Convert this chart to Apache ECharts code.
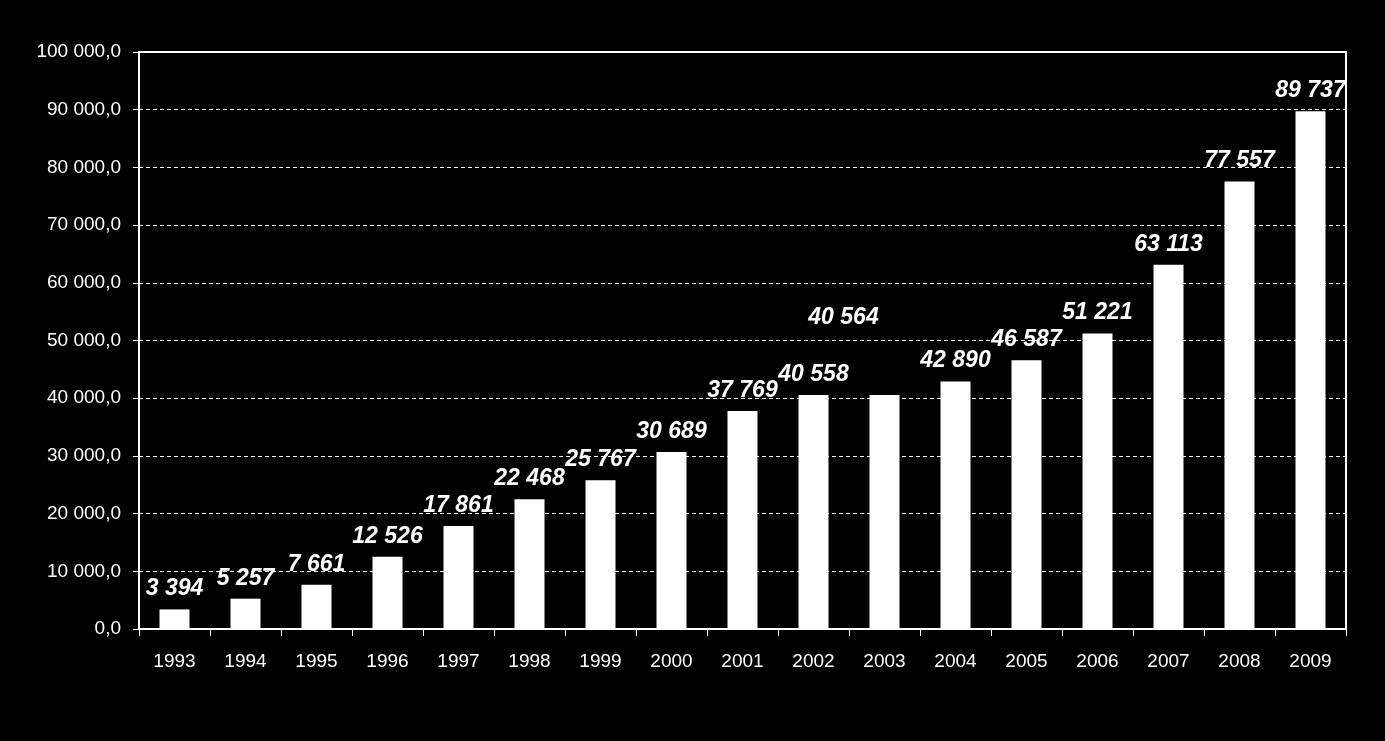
<!DOCTYPE html>
<html>
<head>
<meta charset="utf-8">
<script src="https://cdn.jsdelivr.net/npm/echarts@6/dist/echarts.min.js"></script>
<style>
html,body{margin:0;padding:0;background:#000;}
#chart{width:1385px;height:741px;}
</style>
</head>
<body>
<div id="chart"></div>
<script>
const categories = ['1993','1994','1995','1996','1997','1998','1999','2000','2001','2002','2003','2004','2005','2006','2007','2008','2009'];
const values = [3394, 5257, 7661, 12526, 17861, 22468, 25767, 30689, 37769, 40558, 40564, 42890, 46587, 51221, 63113, 77557, 89737];
const yTicks = { min: 0, max: 100000, interval: 10000 };

function groupSpace(n){
  return String(n).replace(/\B(?=(\d{3})+(?!\d))/g, ' ');
}

const seriesData = values.map((v, i) => {
  if (categories[i] === '2003') {
    return { value: v, label: { offset: [-41, -57] } };
  }
  return v;
});

const chart = echarts.init(document.getElementById('chart'));
chart.setOption({
  backgroundColor: '#000',
  animation: false,
  grid: {
    left: 139, right: 39, top: 52, bottom: 112,
    show: true, borderColor: '#fff', borderWidth: 2, backgroundColor: 'transparent'
  },
  xAxis: {
    type: 'category',
    data: categories,
    axisLine: { lineStyle: { color: '#fff', width: 2 } },
    axisTick: { show: true, alignWithLabel: false, length: 7, lineStyle: { color: '#fff', width: 1 } },
    axisLabel: { color: '#fff', fontSize: 19, fontFamily: 'Liberation Sans, Arial, sans-serif', margin: 23 },
    splitLine: { show: false }
  },
  yAxis: {
    type: 'value',
    min: yTicks.min, max: yTicks.max, interval: yTicks.interval,
    axisLine: { show: true, lineStyle: { color: '#fff', width: 2 } },
    axisTick: { show: true, length: 6, lineStyle: { color: '#fff', width: 1 } },
    axisLabel: {
      color: '#fff', fontSize: 19, fontFamily: 'Liberation Sans, Arial, sans-serif', margin: 18,
      formatter: v => groupSpace(v) + ',0'
    },
    splitLine: { show: true, lineStyle: { color: '#fff', width: 1, type: [4, 3] } }
  },
  series: [{
    type: 'bar',
    data: seriesData,
    barWidth: 30,
    itemStyle: { color: '#fff' },
    label: {
      show: true,
      position: 'top',
      distance: 9,
      color: '#fff',
      fontSize: 23,
      fontWeight: 'bold',
      fontStyle: 'italic',
      fontFamily: 'Liberation Sans, Arial, sans-serif',
      formatter: p => groupSpace(p.value)
    }
  }]
});
</script>
</body>
</html>
